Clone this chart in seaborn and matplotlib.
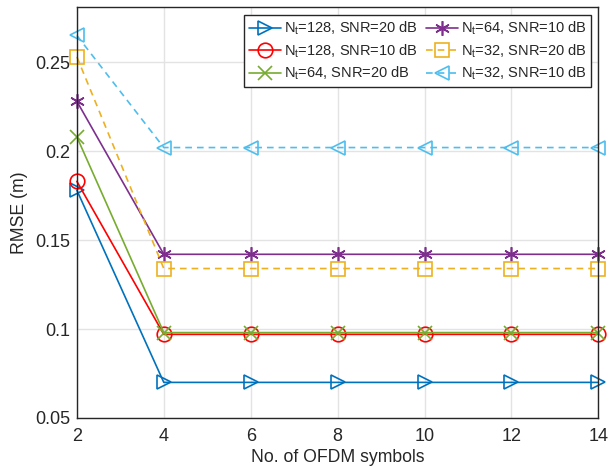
import numpy as np
import pandas as pd
import matplotlib
matplotlib.use("Agg")
import matplotlib.pyplot as plt
import seaborn as sns

# Number of OFDM symbols
symbols = [2, 4, 6, 8, 10, 12, 14]

# RMSE (m) for each antenna count / SNR configuration
rmse_128_20 = [0.178, 0.070, 0.070, 0.070, 0.070, 0.070, 0.070]
rmse_128_10 = [0.183, 0.097, 0.097, 0.097, 0.097, 0.097, 0.097]
rmse_64_20 = [0.208, 0.098, 0.098, 0.098, 0.098, 0.098, 0.098]
rmse_64_10 = [0.228, 0.142, 0.142, 0.142, 0.142, 0.142, 0.142]
rmse_32_20 = [0.253, 0.134, 0.134, 0.134, 0.134, 0.134, 0.134]
rmse_32_10 = [0.265, 0.202, 0.202, 0.202, 0.202, 0.202, 0.202]

labels = [
    r"N$_\mathregular{t}$=128, SNR=20 dB",
    r"N$_\mathregular{t}$=128, SNR=10 dB",
    r"N$_\mathregular{t}$=64, SNR=20 dB",
    r"N$_\mathregular{t}$=64, SNR=10 dB",
    r"N$_\mathregular{t}$=32, SNR=20 dB",
    r"N$_\mathregular{t}$=32, SNR=10 dB",
]
series = [rmse_128_20, rmse_128_10, rmse_64_20, rmse_64_10, rmse_32_20, rmse_32_10]

colors = ["#0072BD", "#FF0000", "#77AC30", "#7E2F8E", "#EDB120", "#4DBEEE"]
markers = [">", "o", "x", (6, 2, 0), "s", "<"]
styles = ["-", "-", "-", "-", (0, (4, 3)), (0, (4, 3))]

sns.set_theme(style="whitegrid")
plt.rcParams["font.family"] = ["Liberation Sans", "DejaVu Sans"]
plt.rcParams["mathtext.fontset"] = "custom"
plt.rcParams["mathtext.rm"] = "Liberation Sans"
plt.rcParams["mathtext.it"] = "Liberation Sans:italic"

fig = plt.figure(figsize=(6.10, 4.67), dpi=100)
ax = fig.add_axes([0.126, 0.105, 0.855, 0.880])

for lab, vals, c, m, ls in zip(labels, series, colors, markers, styles):
    df = pd.DataFrame({"symbols": symbols, "rmse": vals})
    sns.lineplot(
        data=df, x="symbols", y="rmse", ax=ax, color=c, linestyle=ls,
        marker=m, markersize=10.5, markerfacecolor="none", markeredgecolor=c,
        markeredgewidth=1.2, linewidth=1.2, label=lab, clip_on=False,
        zorder=3,
    )

leg = ax.legend(ncol=2, loc="upper right",
                bbox_to_anchor=(0.995, 0.99), fontsize=10.5,
                frameon=True, fancybox=False, edgecolor="#262626",
                handlelength=2.2, handletextpad=0.2, columnspacing=0.6,
                labelspacing=0.35, borderpad=0.3, borderaxespad=0.3)
leg.get_frame().set_linewidth(1.0)
leg.get_frame().set_alpha(1.0)
leg.set_zorder(5)

ax.set_xlim(2, 14)
ax.set_ylim(0.05, 0.281)
ax.set_xticks([2, 4, 6, 8, 10, 12, 14])
ax.set_yticks([0.05, 0.1, 0.15, 0.2, 0.25])
ax.set_yticklabels(["0.05", "0.1", "0.15", "0.2", "0.25"])
ax.set_xlabel("No. of OFDM symbols", fontsize=12.7, color="#262626", labelpad=3)
ax.set_ylabel("RMSE (m)", fontsize=12.7, color="#262626", labelpad=5)
ax.tick_params(axis="both", labelsize=13, colors="#262626", direction="in",
               length=4, width=0.8)
ax.tick_params(axis="x", pad=7)
ax.tick_params(axis="y", pad=5)
ax.grid(True, color="#e3e3e3", linewidth=1.0)
for sp in ax.spines.values():
    sp.set_color("#262626")
    sp.set_linewidth(1.0)
    sp.set_zorder(4)

fig.savefig("out.png", dpi=100)
